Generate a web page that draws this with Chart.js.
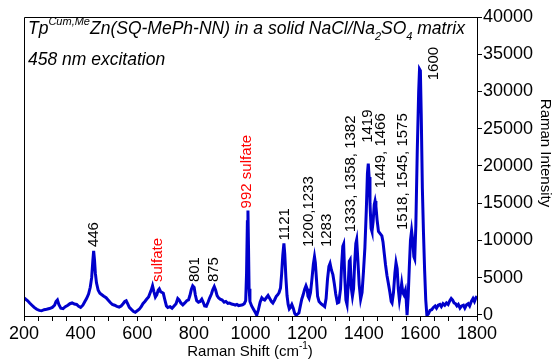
<!DOCTYPE html>
<html>
<head>
<meta charset="utf-8">
<script src="https://cdn.jsdelivr.net/npm/chart.js@4.4.1/dist/chart.umd.min.js"></script>
<style>
  body { margin: 0; background: #fff; }
  #wrap { width: 555px; height: 360px; position: relative; }
</style>
</head>
<body>
<div id="wrap"><canvas id="ramanChart"></canvas></div>
<script>
// Raman shift (cm-1) and measured intensity
const shift = [
  200, 206, 213, 220, 228, 236, 245, 254, 262, 271, 280, 290, 300, 308, 313, 318, 323, 330, 338, 346,
  355, 362, 370, 378, 386, 393, 400, 408, 415, 421, 428, 434, 439, 443, 446, 449, 452, 456, 462, 468,
  475, 482, 490, 497, 504, 512, 520, 528, 536, 543, 550, 556, 561, 566, 572, 580, 587, 593, 600, 607,
  614, 620, 627, 633, 640, 645, 650, 654, 659, 664, 669, 674, 678, 683, 688, 692, 697, 703, 708, 716,
  723, 730, 737, 743, 748, 754, 761, 768, 775, 781, 786, 791, 796, 801, 805, 810, 816, 822, 828, 833,
  838, 844, 850, 856, 862, 867, 872, 877, 882, 887, 893, 900, 907, 913, 920, 926, 933, 940, 946, 952,
  958, 965, 972, 978, 983, 986, 989, 991, 993, 995, 998, 1004, 1010, 1016, 1022, 1028, 1034, 1040, 1045, 1050,
  1056, 1062, 1068, 1074, 1079, 1085, 1091, 1096, 1101, 1106, 1110, 1114, 1118, 1121, 1125, 1129, 1133, 1137, 1141, 1146,
  1151, 1156, 1161, 1166, 1171, 1176, 1181, 1186, 1191, 1196, 1200, 1203, 1207, 1212, 1217, 1222, 1226, 1229, 1233, 1237,
  1242, 1249, 1256, 1262, 1267, 1272, 1277, 1281, 1286, 1291, 1296, 1301, 1307, 1312, 1318, 1322, 1326, 1329, 1333, 1337,
  1341, 1345, 1349, 1352, 1356, 1360, 1364, 1368, 1372, 1375, 1379, 1384, 1389, 1394, 1399, 1404, 1409, 1413, 1416, 1419,
  1422, 1426, 1429, 1433, 1437, 1440, 1443, 1447, 1452, 1458, 1464, 1468, 1472, 1477, 1482, 1487, 1492, 1497, 1500, 1505,
  1510, 1514, 1518, 1522, 1526, 1530, 1534, 1538, 1542, 1547, 1550, 1553, 1557, 1561, 1565, 1569, 1573, 1577, 1580, 1584,
  1589, 1594, 1597, 1600, 1603, 1607, 1611, 1615, 1619, 1623, 1628, 1634, 1640, 1646, 1652, 1657, 1663, 1669, 1674, 1680,
  1686, 1692, 1698, 1704, 1709, 1714, 1719, 1724, 1729, 1734, 1740, 1746, 1752, 1757, 1763, 1769, 1774, 1780, 1786, 1791,
  1796, 1800
];
const intensity = [
  2300, 2100, 1900, 1600, 1300, 1000, 750, 600, 550, 700, 750, 850, 1000, 1300, 1800, 2000, 1400, 900, 850, 1100,
  1300, 1500, 1600, 1450, 1400, 1150, 1000, 1300, 1800, 2200, 2800, 3700, 5000, 7200, 8600, 7400, 5600, 4300, 3300, 2900,
  2700, 2500, 2300, 2000, 1700, 1400, 1300, 1150, 1050, 1200, 1500, 1800, 1900, 1500, 1000, 700, 450, 350, 550, 750,
  1100, 1500, 1800, 2100, 2400, 2900, 3400, 3900, 3100, 2400, 2700, 3300, 3500, 3100, 3000, 2900, 2100, 1200, 1000, 1100,
  900, 1200, 1500, 2200, 2000, 1600, 1350, 1600, 1900, 2000, 2600, 3400, 3900, 3700, 2700, 1900, 1700, 1800, 2100, 1700,
  1200, 1150, 1700, 2300, 2800, 3400, 3800, 3300, 2600, 2300, 2100, 2000, 1700, 1800, 1550, 1600, 1450, 1400, 1300, 1400,
  1250, 1300, 1350, 1500, 1900, 5500, 12500, 14000, 9000, 3500, 1800, 1200, 800, 400, -50, 700, 1700, 2300, 2100, 2000,
  2300, 2600, 2200, 1800, 1600, 2000, 2500, 2700, 3000, 3600, 5500, 8000, 9600, 8200, 5000, 2600, 1400, 800, 1000, 1400,
  900, 200, -50, 100, 250, 1200, 2100, 2700, 3400, 3900, 3500, 2500, 2200, 3000, 4800, 6800, 7800, 7000, 4800, 2500,
  1800, 1500, 1300, 1100, 2200, 4800, 6500, 6900, 6000, 5400, 4200, 2800, 1600, 1700, 3500, 6800, 9200, 9500, 5000, 2000,
  1400, 4000, 7200, 7400, 3600, 2500, 3500, 7000, 9600, 10100, 7500, 4000, 2100, 3000, 5800, 9000, 14000, 19000, 20300, 18500,
  15000, 11600, 11200, 12500, 14800, 15300, 14600, 12800, 11200, 10900, 10600, 9800, 8400, 6700, 5300, 4200, 3100, 1800, 1600, 3000,
  5600, 7000, 6200, 3500, 2000, 3000, 4200, 3000, 2700, 3300, 2000, -50, 2500, 6500, 10000, 11300, 10000, 7800, 7500, 12000,
  22000, 30000, 33000, 32800, 27000, 17000, 11000, 6000, 2000, -50, 100, 600, 700, 1000, 1200, 900, 1300, 1400, 1100, 1500,
  1300, 1600, 1400, 1900, 2200, 2000, 1600, 1500, 1200, 1400, 900, 1200, 1300, 900, 1350, 1500, 1200, 1800, 2200, 1800,
  2300, 2500
];

// band assignments, anchored (start of the rotated text) in data units
const peakText = ['446', 'sulfate', '801', '875', '992 sulfate', '1121', '1200,1233', '1283',
  '1333, 1358, 1382', '1419', '1449, 1466', '1518, 1545, 1575', '1600'];
const peakAtShift = [447, 673, 804, 871, 988, 1122, 1207, 1270, 1355, 1415, 1461, 1539, 1648];
const peakAtIntensity = [9100, 4400, 4400, 4400, 14300, 10000, 9100, 9100, 11100, 23100, 17000, 11400, 31500];

const xTicks = [200, 400, 600, 800, 1000, 1200, 1400, 1600, 1800];
const yTicks = [0, 5000, 10000, 15000, 20000, 25000, 30000, 35000, 40000];

const FONT = 'Arial, "Liberation Sans", sans-serif';

// draws a row of text pieces with their own size and baseline shift
function drawRuns(ctx, x, y, runs, style) {
  let cx = x;
  runs.forEach(r => {
    ctx.font = style + ' ' + r[1] + 'px ' + FONT;
    ctx.fillText(r[0], cx, y + r[2]);
    cx += ctx.measureText(r[0]).width;
  });
  return cx - x;
}

function runsWidth(ctx, runs, style) {
  let w = 0;
  runs.forEach(r => {
    ctx.font = style + ' ' + r[1] + 'px ' + FONT;
    w += ctx.measureText(r[0]).width;
  });
  return w;
}

const annotate = {
  id: 'annotate',
  afterDraw(chart) {
    const { ctx, chartArea: a, scales: { x, y } } = chart;
    ctx.save();

    // frame on the top and left
    ctx.strokeStyle = '#000';
    ctx.lineWidth = 1;
    ctx.beginPath();
    ctx.moveTo(a.left + 0.5, a.bottom);
    ctx.lineTo(a.left + 0.5, a.top + 0.5);
    ctx.lineTo(a.right, a.top + 0.5);
    ctx.stroke();

    // peak labels
    ctx.font = '15px ' + FONT;
    ctx.textAlign = 'left';
    ctx.textBaseline = 'middle';
    peakText.forEach((t, i) => {
      ctx.save();
      ctx.translate(x.getPixelForValue(peakAtShift[i]), y.getPixelForValue(peakAtIntensity[i]));
      ctx.rotate(-Math.PI / 2);
      ctx.fillStyle = t.includes('sulfate') ? '#ff0000' : '#000';
      ctx.fillText(t, 0, 0);
      ctx.restore();
    });

    // sample description
    ctx.fillStyle = '#000';
    ctx.textBaseline = 'alphabetic';
    drawRuns(ctx, a.left + 4, 34, [
      ['Tp', 17.5, 0], ['Cum,Me', 11, -9], ['Zn(SQ-MePh-NN) in a solid NaCl/Na', 17.5, 0],
      ['2', 11, 6], ['SO', 17.5, 0], ['4', 11, 6], [' matrix', 17.5, 0]
    ], 'italic');
    drawRuns(ctx, a.left + 4, 65, [['458 nm excitation', 17.5, 0]], 'italic');

    // axis titles
    const xt = [['Raman Shift (cm', 15, 0], ['-1', 10, -7], [')', 15, 0]];
    const w = runsWidth(ctx, xt, '');
    drawRuns(ctx, 250 - w / 2, 356, xt, '');

    ctx.save();
    ctx.translate(545, 153);
    ctx.rotate(Math.PI / 2);
    ctx.font = '15px ' + FONT;
    ctx.textAlign = 'center';
    ctx.textBaseline = 'middle';
    ctx.fillText('Raman Intensity', 0, 0);
    ctx.restore();

    ctx.restore();
  }
};

new Chart(document.getElementById('ramanChart'), {
  type: 'line',
  data: {
    datasets: [{
      data: shift.map((s, i) => ({ x: s, y: intensity[i] })),
      borderColor: '#0000cc',
      borderWidth: 3,
      pointRadius: 0,
      tension: 0,
      fill: false
    }]
  },
  options: {
    responsive: true,
    maintainAspectRatio: false,
    animation: false,
    devicePixelRatio: 1,
    layout: { padding: { left: 24, top: 17, right: 0, bottom: 0 } },
    plugins: {
      legend: { display: false },
      tooltip: { enabled: false }
    },
    scales: {
      x: {
        type: 'linear',
        min: 200,
        max: 1800,
        afterFit: s => { s.height = 44; },
        // a tick every 50 cm-1, labelled every 200
        afterBuildTicks: s => {
          const t = [];
          for (let v = 200; v <= 1800; v += 50) t.push({ value: v });
          s.ticks = t;
        },
        ticks: {
          autoSkip: false,
          maxRotation: 0,
          padding: 2,
          color: '#000',
          font: { family: FONT, size: 18 },
          callback: v => xTicks.includes(v) ? String(v) : ''
        },
        grid: { drawOnChartArea: false, tickLength: 5, color: '#000' },
        border: { color: '#000', width: 1 }
      },
      y: {
        position: 'right',
        min: -150,
        max: 40000,
        afterFit: s => { s.width = 78; },
        afterBuildTicks: s => { s.ticks = yTicks.map(v => ({ value: v })); },
        ticks: {
          autoSkip: false,
          padding: 1,
          color: '#000',
          font: { family: FONT, size: 18 },
          callback: v => String(v)
        },
        grid: { drawOnChartArea: false, tickLength: 5, color: '#000' },
        border: { color: '#000', width: 1 }
      }
    }
  },
  plugins: [annotate]
});
</script>
</body>
</html>
